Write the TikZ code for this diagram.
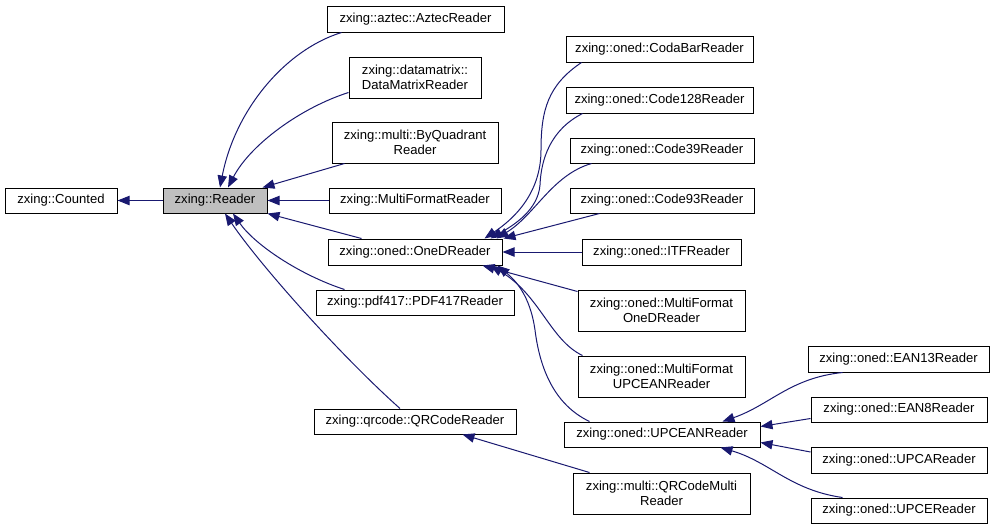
\documentclass[tikz,border=0pt]{standalone}
\usepackage{fontspec}
\setmainfont{Liberation Sans}
\usetikzlibrary{arrows.meta,calc}
\definecolor{edgecol}{HTML}{191970}
\definecolor{basegray}{HTML}{BFBFBF}
\tikzset{
  box/.style={draw=black, line width=0.75pt, fill=white, inner sep=0pt, align=center,
    font=\fontsize{9.8}{10.8}\selectfont},
  edge/.style={draw=edgecol, line width=0.75pt, -{Triangle[length=9pt,width=7pt]}, shorten >=0pt},
}
\newcommand\bx[7][]{\node[box,#1, minimum width={(#5-#3)*0.75pt}, minimum height={(#6-#4)*0.75pt}] (#2) at ({(#3+#5)/2},{(#4+#6)/2}) {#7};}
\begin{document}
\begin{tikzpicture}[x=0.75pt,y=-0.75pt]
\useasboundingbox (0,0) rectangle (995,529);
\bx{counted}{5}{188}{117}{213}{zxing::Counted}
\bx[fill=basegray]{reader}{163}{188}{267}{213}{zxing::Reader}
\bx{aztec}{327}{6}{504}{32}{zxing::aztec::AztecReader}
\bx{datamatrix}{349}{57}{481}{98}{zxing::datamatrix::\\DataMatrixReader}
\bx{byquad}{332}{122}{498}{163}{zxing::multi::ByQuadrant\\Reader}
\bx{mfreader}{329}{188}{501}{213}{zxing::MultiFormatReader}
\bx{oned}{328}{239}{502}{265}{zxing::oned::OneDReader}
\bx{pdf}{316}{290}{514}{315}{zxing::pdf417::PDF417Reader}
\bx{qrcode}{314}{409}{516}{434}{zxing::qrcode::QRCodeReader}
\bx{codabar}{566}{36}{753}{62}{zxing::oned::CodaBarReader}
\bx{codeA}{566}{87}{753}{113}{zxing::oned::Code128Reader}
\bx{codeB}{570}{138}{754}{163}{zxing::oned::Code39Reader}
\bx{codeC}{570}{188}{754}{213}{zxing::oned::Code93Reader}
\bx{itf}{582}{239}{741}{265}{zxing::oned::ITFReader}
\bx{mfoned}{578}{290}{745}{331}{zxing::oned::MultiFormat\\OneDReader}
\bx{mfupcean}{578}{356}{745}{397}{zxing::oned::MultiFormat\\UPCEANReader}
\bx{upcean}{564}{422}{760}{447}{zxing::oned::UPCEANReader}
\bx{qrmulti}{573}{473}{750}{514}{zxing::multi::QRCodeMulti\\Reader}
\bx{ean13}{808}{346}{989}{372}{zxing::oned::EAN13Reader}
\bx{ean8}{811}{397}{987}{422}{zxing::oned::EAN8Reader}
\bx{upca}{811}{447}{987}{473}{zxing::oned::UPCAReader}
\bx{upce}{811}{498}{987}{523}{zxing::oned::UPCEReader}
% edges to Counted / Reader
\draw[edge] (reader.west) -- (counted.east);
\draw[edge] ($(aztec.south west)+(15,0)$) .. controls (285,50) and (235,110) .. ($(reader.north)+(5,0)$);
\draw[edge] ($(datamatrix.south west)+(0,-6)$) .. controls (300,108) and (250,145) .. ($(reader.north)+(13,0)$);
\draw[edge] ($(byquad.south west)+(13,0)$) -- ($(reader.north east)+(-5,0)$);
\draw[edge] (mfreader.west) -- (reader.east);
\draw[edge] ($(oned.north west)+(34,0)$) -- (reader.south east);
\draw[edge] ($(pdf.north west)+(29,0)$) .. controls (300,275) and (255,245) .. ($(reader.south)+(18,0)$);
\draw[edge] ($(qrcode.north)+(-15,0)$) .. controls (340,355) and (260,265) .. ($(reader.south)+(10,0)$);
% edges to OneDReader
\draw[edge] ($(codabar.south west)+(16,0)$) .. controls (548,85) and (541,110) .. (541,150) .. controls (541,195) and (512,220) .. ($(oned.north east)+(-18,0)$);
\draw[edge] ($(codeA.south west)+(17,0)$) .. controls (550,130) and (541,160) .. (540,185) .. controls (538,210) and (514,225) .. ($(oned.north east)+(-12,0)$);
\draw[edge] ($(codeB.south west)+(22,0)$) .. controls (552,175) and (535,215) .. ($(oned.north east)+(-6,0)$);
\draw[edge] ($(codeC.south west)+(30,0)$) -- ($(oned.north east)+(1,0)$);
\draw[edge] (itf.west) -- (oned.east);
\draw[edge] ($(mfoned.north west)+(0,2)$) -- ($(oned.south east)+(-20,0)$);
\draw[edge] ($(mfupcean.north west)+(5,0)$) .. controls (550,340) and (540,295) .. ($(oned.south east)+(-12,0)$);
\draw[edge] ($(upcean.north west)+(26,0)$) .. controls (555,405) and (540,370) .. (535,330) .. controls (530,295) and (515,280) .. ($(oned.south east)+(-5,0)$);
% edges to UPCEANReader
\draw[edge] ($(ean13.south west)+(35,0)$) .. controls (790,378) and (770,405) .. ($(upcean.north east)+(-38,0)$);
\draw[edge] ($(ean8.west)+(0,9)$) -- ($(upcean.east)+(0,-8)$);
\draw[edge] ($(upca.west)+(0,-8)$) -- ($(upcean.east)+(0,8)$);
\draw[edge] ($(upce.north west)+(32,0)$) .. controls (790,490) and (770,462) .. ($(upcean.south east)+(-40,0)$);
% edge to QRCodeReader
\draw[edge] ($(qrmulti.north west)+(17,0)$) -- ($(qrcode.south east)+(-54,0)$);
\end{tikzpicture}
\end{document}
